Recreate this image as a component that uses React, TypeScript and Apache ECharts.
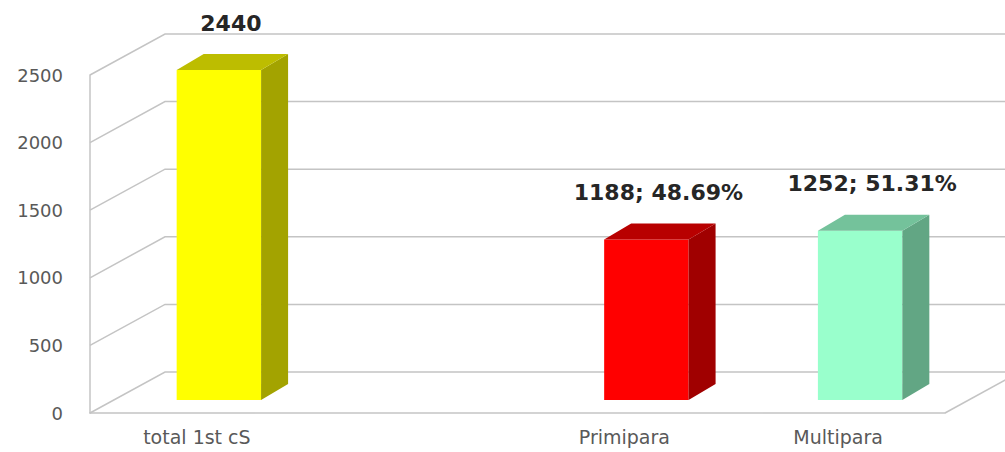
import React, { useEffect, useRef } from "react";
import * as echarts from "echarts";

const categories = ["total 1st cS", "", "Primipara", "Multipara"];
const values: (number | null)[] = [2440, null, 1188, 1252];
const showPercent = [false, false, true, true];
const yTicks = [0, 500, 1000, 1500, 2000, 2500];
const totalCount = 2440;

const frontColors = ["#ffff00", "", "#ff0000", "#99ffcc"];
const sideColors = ["#a3a300", "", "#a00000", "#62a684"];
const topColors = ["#bdbd00", "", "#b80000", "#74c29b"];

const LINE = "#c4c4c4";
const FONT = "DejaVu Sans";

export default function App() {
  const ref = useRef<HTMLDivElement>(null);
  useEffect(() => {
    document.body.style.margin = "0";
    const chart = echarts.init(ref.current!, undefined, { renderer: "svg" });
    const barData = values
      .map((v, i) => (v == null ? null : [i, v]))
      .filter((d) => d != null);

    const option: any = {
      animation: false,
      backgroundColor: "#ffffff",
      grid: { left: 90, right: 60, top: 75, bottom: 39 },
      xAxis: {
        type: "category",
        data: categories,
        boundaryGap: true,
        axisLine: { show: true, lineStyle: { color: LINE, width: 1.5 } },
        axisTick: { show: false },
        axisLabel: { color: "#595959", fontFamily: FONT, fontSize: 19, margin: 14, interval: 0 },
        splitLine: { show: false },
      },
      yAxis: {
        type: "value",
        min: 0,
        max: 2500,
        interval: 500,
        axisLine: { show: true, lineStyle: { color: LINE, width: 1.5 } },
        axisTick: { show: false },
        axisLabel: {
          color: "#595959",
          fontFamily: FONT,
          fontSize: 18,
          margin: 27,
          formatter: (v: number) => String(v),
        },
        splitLine: { show: false },
      },
      series: [
        {
          type: "custom",
          z: 1,
          silent: true,
          data: yTicks.map((v) => [0, v]),
          renderItem: (params: any, api: any) => {
            const v = api.value(1);
            const p = api.coord([0, v]);
            const cs = params.coordSys;
            const left = cs.x;
            const right = cs.x + cs.width;
            const y = p[1];
            const children: any[] = [
              {
                type: "polyline",
                shape: { points: [[left, y], [left + 75, y - 41], [right + 300, y - 41]] },
                style: { stroke: LINE, lineWidth: 1.5, fill: null },
              },
            ];
            if (v === 0) {
              children.push({
                type: "line",
                shape: { x1: right, y1: y, x2: right + 75, y2: y - 41 },
                style: { stroke: LINE, lineWidth: 1.5 },
              });
            }
            return { type: "group", children };
          },
        },
        {
          type: "custom",
          z: 2,
          data: barData,
          renderItem: (params: any, api: any) => {
            const i = api.value(0);
            const v = api.value(1);
            const cs = params.coordSys;
            const bandW = cs.width / categories.length;
            const base = api.coord([i, 0]);
            const top = api.coord([i, v]);
            const w = bandW * 0.395;
            const ox = 22, oy = -13, dx = 27, dy = -16;
            const x0 = base[0] + ox - w / 2;
            const x1 = x0 + w;
            const yb = base[1] + oy;
            const yt = top[1] + oy;
            const label = showPercent[i]
              ? `${v}; ${((v / totalCount) * 100).toFixed(2)}%`
              : `${v}`;
            return {
              type: "group",
              children: [
                {
                  type: "rect",
                  shape: { x: x0, y: yt, width: w, height: yb - yt },
                  style: { fill: frontColors[i] },
                },
                {
                  type: "polygon",
                  shape: { points: [[x1, yt], [x1 + dx, yt + dy], [x1 + dx, yb + dy], [x1, yb]] },
                  style: { fill: sideColors[i] },
                },
                {
                  type: "polygon",
                  shape: { points: [[x0, yt], [x0 + dx, yt + dy], [x1 + dx, yt + dy], [x1, yt]] },
                  style: { fill: topColors[i] },
                },
                {
                  type: "text",
                  x: base[0] + ox + 12,
                  y: yt + dy - 31,
                  style: {
                    text: label,
                    fill: "#262626",
                    font: `bold 22px "${FONT}"`,
                    align: "center",
                    verticalAlign: "middle",
                  },
                },
              ],
            };
          },
        },
      ],
    };
    chart.setOption(option);
    return () => chart.dispose();
  }, []);
  return <div ref={ref} style={{ width: 1005, height: 452 }} />;
}
